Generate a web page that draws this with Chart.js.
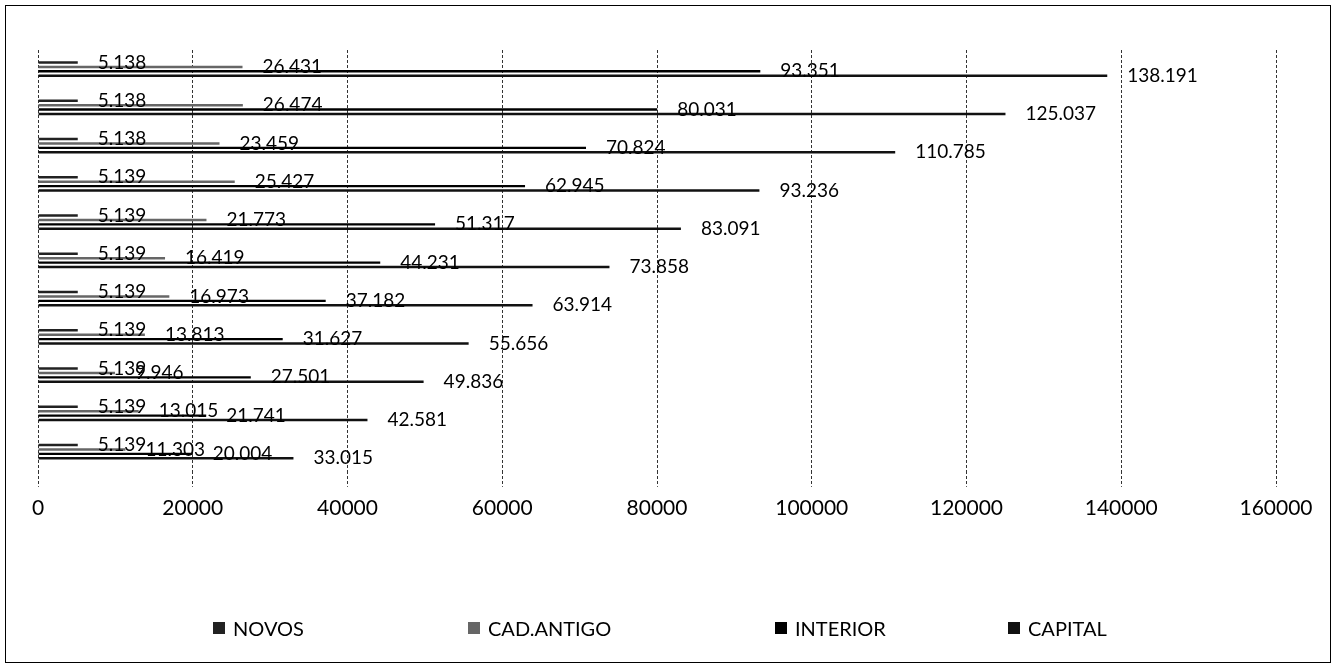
<!DOCTYPE html>
<html>
<head>
<meta charset="utf-8">
<title>Cadastro</title>
<script src="https://cdn.jsdelivr.net/npm/chart.js@4.4.1/dist/chart.umd.min.js"></script>
<style>
    body { margin: 0; background: #fff; }
    #wrap { position: relative; width: 1335px; height: 666px; }
    #frame { position: absolute; left: 5px; top: 5px; width: 1324px; height: 656px; border: 1px solid #000; pointer-events: none; }
    #legend { position: absolute; left: 0; top: 615px; width: 1335px; height: 26px; font-family: Lato, sans-serif; font-size: 20px; color: #000; }
    .item { position: absolute; top: 0; display: flex; align-items: center; height: 26px; white-space: nowrap; }
    .box { width: 12px; height: 12px; margin-right: 8px; }
</style>
</head>
<body>
<div id="wrap">
    <canvas id="chart" width="1335" height="666"></canvas>
    <div id="frame"></div>
    <div id="legend"></div>
</div>
<script>
// Data
const categories = ['1', '2', '3', '4', '5', '6', '7', '8', '9', '10', '11'];
const seriesNames = ['NOVOS', 'CAD.ANTIGO', 'INTERIOR', 'CAPITAL'];
const novos = [5138, 5138, 5138, 5139, 5139, 5139, 5139, 5139, 5139, 5139, 5139];
const cadAntigo = [26431, 26474, 23459, 25427, 21773, 16419, 16973, 13813, 9946, 13015, 11303];
const interior = [93351, 80031, 70824, 62945, 51317, 44231, 37182, 31627, 27501, 21741, 20004];
const capital = [138191, 125037, 110785, 93236, 83091, 73858, 63914, 55656, 49836, 42581, 33015];
const xTicks = [0, 20000, 40000, 60000, 80000, 100000, 120000, 140000, 160000];

// Styling
const seriesColors = ['#222', '#666', '#000', '#111'];
const legendX = [213, 468, 775, 1008];

// 138191 -> "138.191"
function fmt(v) {
    return String(v).replace(/\B(?=(\d{3})+(?!\d))/g, '.');
}

// Draw the value at the end of every bar
const valueLabels = {
    id: 'valueLabels',
    afterDatasetsDraw(chart) {
        const ctx = chart.ctx;
        ctx.save();
        ctx.font = '19px Lato';
        ctx.fillStyle = '#000';
        ctx.textBaseline = 'middle';
        chart.data.datasets.forEach((ds, i) => {
            chart.getDatasetMeta(i).data.forEach((bar, j) => {
                ctx.fillText(fmt(ds.data[j]), bar.x + 20, bar.y);
            });
        });
        ctx.restore();
    }
};

// HTML legend
function buildLegend() {
    const legend = document.getElementById('legend');
    seriesNames.forEach((name, i) => {
        const item = document.createElement('div');
        item.className = 'item';
        item.style.left = legendX[i] + 'px';
        const box = document.createElement('span');
        box.className = 'box';
        box.style.background = seriesColors[i];
        const text = document.createElement('span');
        text.textContent = name;
        item.appendChild(box);
        item.appendChild(text);
        legend.appendChild(item);
    });
}

function initializeChart() {
    const values = [novos, cadAntigo, interior, capital];
    new Chart(document.getElementById('chart'), {
        type: 'bar',
        data: {
            labels: categories,
            datasets: seriesNames.map((name, i) => ({
                label: name,
                data: values[i],
                backgroundColor: seriesColors[i],
                borderWidth: 0,
                categoryPercentage: 0.46,
                barPercentage: 0.55
            }))
        },
        options: {
            indexAxis: 'y',
            responsive: false,
            animation: false,
            layout: {
                padding: { left: 38, right: 59, top: 50, bottom: 136 }
            },
            plugins: {
                legend: { display: false },
                tooltip: { enabled: false }
            },
            scales: {
                x: {
                    min: 0,
                    max: 160000,
                    afterBuildTicks: (axis) => {
                        axis.ticks = xTicks.map(v => ({ value: v }));
                    },
                    ticks: {
                        padding: 9,
                        color: '#000',
                        font: { family: 'Lato', size: 21 },
                        callback: (v) => String(v),
                        maxRotation: 0
                    },
                    grid: {
                        color: '#333',
                        lineWidth: 1,
                        tickLength: 16,
                        tickBorderDash: [3, 2],
                        tickColor: '#333'
                    },
                    border: { display: false, dash: [3, 2] }
                },
                y: {
                    display: false
                }
            }
        },
        plugins: [valueLabels]
    });
}

document.addEventListener('DOMContentLoaded', async () => {
    buildLegend();
    try {
        await document.fonts.load('19px Lato');
    } catch (e) {
        console.error('Font load failed:', e);
    }
    initializeChart();
});
</script>
</body>
</html>
